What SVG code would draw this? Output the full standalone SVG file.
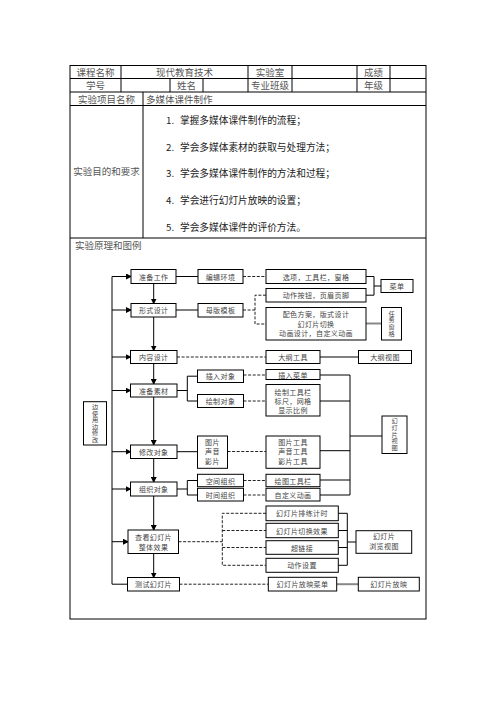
<svg xmlns="http://www.w3.org/2000/svg" width="496" height="702" viewBox="0 0 496 702">
<defs>
<marker id="ah" markerWidth="6" markerHeight="6" refX="5" refY="3" orient="auto" markerUnits="userSpaceOnUse">
<path d="M0,0 L6,3 L0,6 Z" fill="#000"/>
</marker>
<style>
.t{font-family:"Noto Sans CJK SC","Liberation Sans",sans-serif;}
.h{font-size:9.5px;fill:#555;}
.it{font-size:9.7px;fill:#222;}
.l{font-size:7px;fill:#444;letter-spacing:0.4px;}
.v{font-size:6.2px;fill:#444;writing-mode:vertical-rl;text-orientation:upright;}
.b{fill:#fff;stroke:#000;stroke-width:1;}
.s{stroke:#000;stroke-width:1;fill:none;}
.d{stroke:#222;stroke-width:1;fill:none;stroke-dasharray:3,1.6;}
.g{stroke:#888;stroke-width:2;fill:none;}
.a{stroke:#000;stroke-width:1;fill:none;marker-end:url(#ah);}
</style>
</defs>
<rect width="496" height="702" fill="#fff"/>
<g id="table" class="s">
<rect x="70" y="65.5" width="356" height="553.5"/>
<line x1="70" y1="78.5" x2="426" y2="78.5"/>
<line x1="70" y1="92" x2="426" y2="92"/>
<line x1="70" y1="105.5" x2="426" y2="105.5"/>
<line x1="70" y1="238" x2="426" y2="238"/>
<line x1="121" y1="65.5" x2="121" y2="92"/>
<line x1="248" y1="65.5" x2="248" y2="92"/>
<line x1="292" y1="65.5" x2="292" y2="92"/>
<line x1="357" y1="65.5" x2="357" y2="92"/>
<line x1="390" y1="65.5" x2="390" y2="92"/>
<line x1="170" y1="78.5" x2="170" y2="92"/>
<line x1="203" y1="78.5" x2="203" y2="92"/>
<line x1="143" y1="92" x2="143" y2="238"/>
</g>
<g id="table-text" class="t" dominant-baseline="central">
<text class="h" x="95.5" y="72" text-anchor="middle">课程名称</text>
<text class="h" x="184.5" y="72" text-anchor="middle">现代教育技术</text>
<text class="h" x="270" y="72" text-anchor="middle">实验室</text>
<text class="h" x="373.5" y="72" text-anchor="middle">成绩</text>
<text class="h" x="95.5" y="85.3" text-anchor="middle">学号</text>
<text class="h" x="186.5" y="85.3" text-anchor="middle">姓名</text>
<text class="h" x="270" y="85.3" text-anchor="middle">专业班级</text>
<text class="h" x="373.5" y="85.3" text-anchor="middle">年级</text>
<text class="h" x="106.5" y="98.8" text-anchor="middle">实验项目名称</text>
<text class="h" x="146" y="98.8">多媒体课件制作</text>
<text class="h" x="106.5" y="171" text-anchor="middle">实验目的和要求</text>
<text class="it" x="166" y="120">1.</text>
<text class="it" x="180" y="120">掌握多媒体课件制作的流程；</text>
<text class="it" x="166" y="146.7">2.</text>
<text class="it" x="180" y="146.7">学会多媒体素材的获取与处理方法；</text>
<text class="it" x="166" y="173.3">3.</text>
<text class="it" x="180" y="173.3">学会多媒体课件制作的方法和过程；</text>
<text class="it" x="166" y="200">4.</text>
<text class="it" x="180" y="200">学会进行幻灯片放映的设置；</text>
<text class="it" x="166" y="226.7">5.</text>
<text class="it" x="180" y="226.7">学会多媒体课件的评价方法。</text>
<text class="h" x="75" y="244.5">实验原理和图例</text>
</g>
<g id="connectors">
<polyline class="s" points="127.5,584.2 112,584.2 112,276.5"/>
<line class="a" x1="112" y1="276.5" x2="131" y2="276.5"/>
<line class="a" x1="112" y1="310" x2="131" y2="310"/>
<line class="a" x1="112" y1="357" x2="130.5" y2="357"/>
<line class="a" x1="112" y1="390.5" x2="130.5" y2="390.5"/>
<line class="a" x1="112" y1="451.7" x2="130.5" y2="451.7"/>
<line class="a" x1="112" y1="489" x2="130.5" y2="489"/>
<line class="a" x1="112" y1="541.7" x2="128" y2="541.7"/>
<line class="a" x1="153.7" y1="283.5" x2="153.7" y2="303.5"/>
<line class="a" x1="153.7" y1="317" x2="153.7" y2="350.5"/>
<line class="a" x1="153.7" y1="363.5" x2="153.7" y2="384"/>
<line class="a" x1="153.7" y1="397" x2="153.7" y2="445"/>
<line class="a" x1="153.7" y1="458.5" x2="153.7" y2="482"/>
<line class="a" x1="153.7" y1="496" x2="153.7" y2="530"/>
<line class="a" x1="153.7" y1="553.5" x2="153.7" y2="577.5"/>
<line class="s" x1="176" y1="276.5" x2="198" y2="276.5"/>
<line class="d" x1="243" y1="276.5" x2="266" y2="276.5"/>
<polyline class="s" points="366,276.5 374,276.5 374,295.2 366,295.2"/>
<line class="s" x1="374" y1="286" x2="381" y2="286"/>
<line class="s" x1="176" y1="310" x2="198" y2="310"/>
<polyline class="d" points="243,310 255,310"/>
<polyline class="d" points="266,295.2 255,295.2 255,324 266,324"/>
<line class="g" x1="366" y1="323.5" x2="381.5" y2="323.5"/>
<line class="d" x1="177" y1="357" x2="266" y2="357"/>
<line class="s" x1="320" y1="357" x2="358.5" y2="357"/>
<line class="s" x1="177" y1="390.5" x2="187.3" y2="390.5"/>
<polyline class="s" points="197.5,376.2 187.3,376.2 187.3,401 197.5,401"/>
<line class="d" x1="243.5" y1="375" x2="266" y2="375"/>
<line class="d" x1="243.5" y1="401" x2="266" y2="401"/>
<polyline class="s" points="320,375 350,375 350,495 320,495"/>
<line class="s" x1="320" y1="401" x2="350" y2="401"/>
<line class="s" x1="320" y1="450.7" x2="350" y2="450.7"/>
<line class="s" x1="320" y1="480" x2="350" y2="480"/>
<line class="s" x1="350" y1="436" x2="382" y2="436"/>
<line class="s" x1="177" y1="451.7" x2="197.5" y2="451.7"/>
<line class="d" x1="227.5" y1="451.5" x2="266" y2="451.5"/>
<line class="s" x1="177" y1="489" x2="187.3" y2="489"/>
<polyline class="s" points="197.5,480.5 187.3,480.5 187.3,495 197.5,495"/>
<line class="d" x1="243.5" y1="480.5" x2="266" y2="480.5"/>
<line class="d" x1="243.5" y1="495" x2="266" y2="495"/>
<line class="d" x1="178.5" y1="541.7" x2="222.3" y2="541.7"/>
<polyline class="d" points="266,513.3 222.3,513.3 222.3,565.3 266,565.3"/>
<line class="d" x1="222.3" y1="530.5" x2="266" y2="530.5"/>
<line class="d" x1="222.3" y1="547.5" x2="266" y2="547.5"/>
<polyline class="s" points="338.3,513.3 347.3,513.3 347.3,565.3 338.3,565.3"/>
<line class="s" x1="338.3" y1="530.5" x2="347.3" y2="530.5"/>
<line class="s" x1="338.3" y1="547.5" x2="347.3" y2="547.5"/>
<line class="s" x1="347.3" y1="542" x2="356" y2="542"/>
<line class="d" x1="179.5" y1="584.2" x2="268.3" y2="584.2"/>
<line class="g" x1="336.7" y1="584.2" x2="358.3" y2="584.2"/>
</g>
<g class="t" dominant-baseline="central" text-anchor="middle">
<g id="n-zbgz"><rect class="b" x="131" y="269.5" width="45" height="14"/><text class="l" x="153.7" y="276.5">准备工作</text></g>
<g id="n-xssj"><rect class="b" x="131" y="303.5" width="45" height="13.5"/><text class="l" x="153.7" y="310.2">形式设计</text></g>
<g id="n-nrsj"><rect class="b" x="130.5" y="350.5" width="46.5" height="13"/><text class="l" x="153.7" y="357">内容设计</text></g>
<g id="n-zbsc"><rect class="b" x="130.5" y="384" width="46.5" height="13"/><text class="l" x="153.7" y="390.5">准备素材</text></g>
<g id="n-xgdx"><rect class="b" x="130.5" y="445" width="46.5" height="13.5"/><text class="l" x="153.7" y="451.7">修改对象</text></g>
<g id="n-zzdx"><rect class="b" x="130.5" y="482" width="46.5" height="14"/><text class="l" x="153.7" y="489">组织对象</text></g>
<g id="n-ckhdp"><rect class="b" x="128" y="530" width="50.5" height="23.5"/><text class="l" x="153.5" y="536.5">查看幻灯片</text><text class="l" x="153.5" y="547">整体效果</text></g>
<g id="n-cshdp"><rect class="b" x="127.5" y="577.5" width="52" height="13.5"/><text class="l" x="153.5" y="584.2">测试幻灯片</text></g>
<g id="n-bjhj"><rect class="b" x="198" y="269.5" width="45" height="14"/><text class="l" x="220.5" y="276.5">编辑环境</text></g>
<g id="n-mbmb"><rect class="b" x="198" y="303.5" width="45" height="13.5"/><text class="l" x="220.5" y="310.2">母版模板</text></g>
<g id="n-xx"><rect class="b" x="266" y="269.5" width="100" height="14"/><text class="l" x="316" y="276.5">选项，工具栏，窗格</text></g>
<g id="n-dzan"><rect class="b" x="266" y="288.5" width="100" height="13.5"/><text class="l" x="316" y="295.2">动作按钮，页眉页脚</text></g>
<g id="n-cd"><rect class="b" x="381" y="279.5" width="32" height="13"/><text class="l" x="397" y="286">菜单</text></g>
<g id="n-psfa"><rect class="b" x="266" y="307.5" width="100" height="32.5"/><text class="l" x="316" y="314.3">配色方案，版式设计</text><text class="l" x="316" y="323.5">幻灯片切换</text><text class="l" x="316" y="332.7">动画设计，自定义动画</text></g>
<g id="n-rwcg"><rect class="b" x="381.5" y="307.5" width="20" height="32.5"/><text class="v" x="391.5" y="323.7" letter-spacing="0.6">任务窗格</text></g>
<g id="n-dggj"><rect class="b" x="266" y="350.5" width="54" height="13"/><text class="l" x="293" y="357">大纲工具</text></g>
<g id="n-dgst"><rect class="b" x="358.5" y="350.5" width="53" height="13"/><text class="l" x="385" y="357">大纲视图</text></g>
<g id="n-crdx"><rect class="b" x="197.5" y="370" width="46" height="12.5"/><text class="l" x="220.5" y="376.2">插入对象</text></g>
<g id="n-hzdx"><rect class="b" x="197.5" y="394.5" width="46" height="13"/><text class="l" x="220.5" y="401">绘制对象</text></g>
<g id="n-crcd"><rect class="b" x="266" y="369.5" width="54" height="10"/><text class="l" x="293" y="374.5">插入菜单</text></g>
<g id="n-hzgjl"><rect class="b" x="266" y="384.5" width="54" height="31.5"/><text class="l" x="293" y="391.7">绘制工具栏</text><text class="l" x="293" y="401">标尺，网格</text><text class="l" x="293" y="410">显示比例</text></g>
<g id="n-hdpst"><rect class="b" x="382" y="416" width="25" height="37.5"/><text class="v" x="394.5" y="434.7" letter-spacing="0.5">幻灯片视图</text></g>
<g id="n-tp"><rect class="b" x="197.5" y="436" width="30" height="32.3"/><text class="l" x="212.5" y="441.8">图片</text><text class="l" x="212.5" y="451.3">声音</text><text class="l" x="212.5" y="460.8">影片</text></g>
<g id="n-tpgj"><rect class="b" x="266" y="436" width="54" height="32.3"/><text class="l" x="293" y="441.8">图片工具</text><text class="l" x="293" y="451.3">声音工具</text><text class="l" x="293" y="460.8">影片工具</text></g>
<g id="n-kjzz"><rect class="b" x="197.5" y="474.3" width="46" height="12.4"/><text class="l" x="220.5" y="480.5">空间组织</text></g>
<g id="n-sjzz"><rect class="b" x="197.5" y="488.3" width="46" height="12.7"/><text class="l" x="220.5" y="494.7">时间组织</text></g>
<g id="n-htgjl"><rect class="b" x="266" y="474.3" width="54" height="12.4"/><text class="l" x="293" y="480.5">绘图工具栏</text></g>
<g id="n-zdydh"><rect class="b" x="266" y="488.3" width="54" height="12.7"/><text class="l" x="293" y="494.7">自定义动画</text></g>
<g id="n-plji"><rect class="b" x="266" y="506" width="72.3" height="14.7"/><text class="l" x="302" y="513.3">幻灯片排练计时</text></g>
<g id="n-qhxg"><rect class="b" x="266" y="523.3" width="72.3" height="14.4"/><text class="l" x="302" y="530.5">幻灯片切换效果</text></g>
<g id="n-clj"><rect class="b" x="266" y="540.7" width="72.3" height="13.6"/><text class="l" x="302" y="547.5">超链接</text></g>
<g id="n-dzsz"><rect class="b" x="266" y="558.3" width="72.3" height="14"/><text class="l" x="302" y="565.3">动作设置</text></g>
<g id="n-llst"><rect class="b" x="356" y="530.7" width="55.7" height="22.6"/><text class="l" x="384" y="536.2" letter-spacing="3">幻灯片</text><text class="l" x="384" y="546.3">浏览视图</text></g>
<g id="n-fycd"><rect class="b" x="268.3" y="577.3" width="68.4" height="13.7"/><text class="l" x="302.5" y="584.2">幻灯片放映菜单</text></g>
<g id="n-fy"><rect class="b" x="358.3" y="577.3" width="61" height="13.7"/><text class="l" x="388.8" y="584.2">幻灯片放映</text></g>
<g id="n-bsy"><rect class="b" x="83.5" y="401.7" width="23" height="43.3"/><text class="v" x="95" y="423.3" letter-spacing="0.3">边使用边修改</text></g>
</g>
</svg>
